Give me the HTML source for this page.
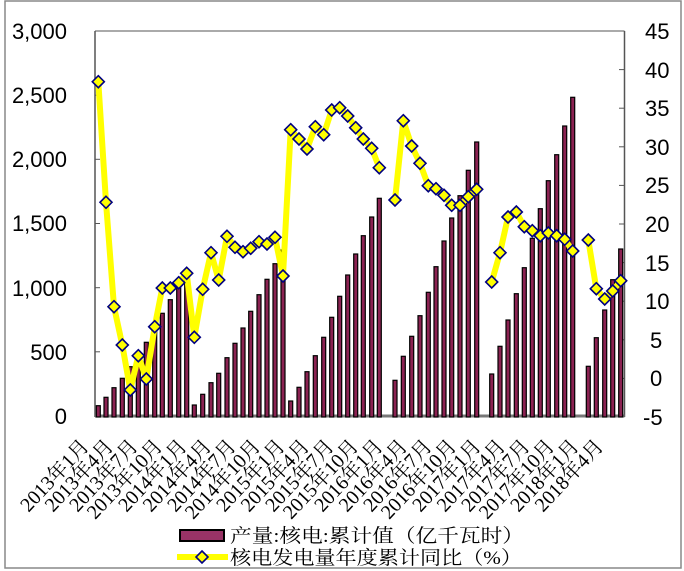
<!DOCTYPE html>
<html><head><meta charset="utf-8"><style>
html,body{margin:0;padding:0;background:#fff;}
svg{display:block;}
.ax{font-family:"Liberation Sans",sans-serif;font-size:22px;fill:#000;}
.xl{font-family:"Liberation Serif","Noto Serif CJK SC",serif;font-size:20px;fill:#000;}
.lg{font-family:"Liberation Serif","Noto Serif CJK SC",serif;font-size:19px;fill:#000;}
</style></head><body>
<svg width="684" height="571" viewBox="0 0 684 571" xmlns="http://www.w3.org/2000/svg">
<rect x="5" y="1" width="676" height="567" fill="#fff" stroke="#888" stroke-width="1.5"/>
<line x1="95" y1="31" x2="95" y2="417" stroke="#555" stroke-width="1.5"/>
<line x1="624.5" y1="31" x2="624.5" y2="417" stroke="#555" stroke-width="1.5"/>
<line x1="95" y1="31" x2="624.5" y2="31" stroke="#555" stroke-width="1"/>
<line x1="95" y1="416" x2="624.5" y2="416" stroke="#777" stroke-width="3"/>
<g stroke="#555" stroke-width="1">
<line x1="95" y1="95.2" x2="100" y2="95.2"/><line x1="95" y1="159.3" x2="100" y2="159.3"/><line x1="95" y1="223.5" x2="100" y2="223.5"/><line x1="95" y1="287.7" x2="100" y2="287.7"/><line x1="95" y1="351.8" x2="100" y2="351.8"/>
<line x1="619" y1="69.6" x2="624" y2="69.6"/><line x1="619" y1="108.2" x2="624" y2="108.2"/><line x1="619" y1="146.8" x2="624" y2="146.8"/><line x1="619" y1="185.4" x2="624" y2="185.4"/><line x1="619" y1="224" x2="624" y2="224"/><line x1="619" y1="262.6" x2="624" y2="262.6"/><line x1="619" y1="301.2" x2="624" y2="301.2"/><line x1="619" y1="339.8" x2="624" y2="339.8"/><line x1="619" y1="378.4" x2="624" y2="378.4"/>
</g>
<g class="ax" text-anchor="end">
<text x="67" y="39">3,000</text><text x="67" y="103">2,500</text><text x="67" y="167">2,000</text><text x="67" y="231">1,500</text><text x="67" y="296">1,000</text><text x="67" y="360">500</text><text x="67" y="424">0</text>
</g>
<g class="ax" text-anchor="start">
<text x="645" y="39">45</text><text x="645" y="78">40</text><text x="645" y="116">35</text><text x="645" y="155">30</text><text x="645" y="193">25</text><text x="645" y="232">20</text><text x="645" y="271">15</text><text x="645" y="309">10</text><text x="650" y="348">5</text><text x="650" y="386">0</text><text x="643" y="425">-5</text>
</g>
<g fill="#8B2252" stroke="#000" stroke-width="1.2">
<rect x="96.3" y="405.7" width="4" height="11.3"/><rect x="104" y="397.3" width="4" height="19.7"/><rect x="112" y="387.7" width="4" height="29.3"/><rect x="120.3" y="378.3" width="4" height="38.7"/><rect x="128.3" y="366.7" width="4" height="50.3"/><rect x="136.3" y="361.7" width="4" height="55.3"/><rect x="144.3" y="342.3" width="4" height="74.7"/><rect x="152.7" y="323" width="4" height="94"/><rect x="160.3" y="313.3" width="4" height="103.7"/><rect x="168.3" y="299.7" width="4" height="117.3"/><rect x="176.7" y="286.7" width="4" height="130.3"/><rect x="184.7" y="277" width="4" height="140"/>
<rect x="192.3" y="405" width="4" height="12"/><rect x="200.7" y="394.3" width="4" height="22.7"/><rect x="209" y="382.7" width="4" height="34.3"/><rect x="216.7" y="373.3" width="4" height="43.7"/><rect x="225" y="357.7" width="4" height="59.3"/><rect x="233" y="343.3" width="4" height="73.7"/><rect x="241" y="328" width="4" height="89"/><rect x="248.7" y="311.3" width="4" height="105.7"/><rect x="257" y="294.7" width="4" height="122.3"/><rect x="265" y="279.3" width="4" height="137.7"/><rect x="273" y="263.7" width="4" height="153.3"/><rect x="281" y="250" width="4" height="167"/>
<rect x="288.7" y="401" width="4" height="16"/><rect x="297" y="387.3" width="4" height="29.7"/><rect x="305" y="371.7" width="4" height="45.3"/><rect x="313.3" y="355.7" width="4" height="61.3"/><rect x="321.7" y="337.3" width="4" height="79.7"/><rect x="329.7" y="317.3" width="4" height="99.7"/><rect x="337.7" y="296.3" width="4" height="120.7"/><rect x="345.7" y="275" width="4" height="142"/><rect x="353.7" y="254" width="4" height="163"/><rect x="361.3" y="235.7" width="4" height="181.3"/><rect x="369.7" y="217" width="4" height="200"/><rect x="377.3" y="198.3" width="4" height="218.7"/>
<rect x="393" y="380.3" width="4" height="36.7"/><rect x="401.3" y="356.3" width="4" height="60.7"/><rect x="409.7" y="336.3" width="4" height="80.7"/><rect x="418" y="315.7" width="4" height="101.3"/><rect x="426.3" y="292.3" width="4" height="124.7"/><rect x="434" y="266.7" width="4" height="150.3"/><rect x="442" y="241" width="4" height="176"/><rect x="449.7" y="218" width="4" height="199"/><rect x="458" y="195.7" width="4" height="221.3"/><rect x="466.3" y="170.3" width="4" height="246.7"/><rect x="474.7" y="142" width="4" height="275"/>
<rect x="489.7" y="374" width="4" height="43"/><rect x="498" y="346.3" width="4" height="70.7"/><rect x="506" y="320" width="4" height="97"/><rect x="514.3" y="293.7" width="4" height="123.3"/><rect x="522.3" y="267.7" width="4" height="149.3"/><rect x="530.3" y="238.3" width="4" height="178.7"/><rect x="538.3" y="208.7" width="4" height="208.3"/><rect x="546.3" y="180.7" width="4" height="236.3"/><rect x="554.7" y="154.7" width="4" height="262.3"/><rect x="562.7" y="126" width="4" height="291"/><rect x="570.7" y="97.3" width="4" height="319.7"/>
<rect x="586.3" y="366.3" width="4" height="50.7"/><rect x="594.3" y="337.7" width="4" height="79.3"/><rect x="602.7" y="310" width="4" height="107"/><rect x="610.7" y="279.7" width="4" height="137.3"/><rect x="618.7" y="249" width="4" height="168"/>
</g>
<defs><path id="d" d="M0,-6 L6,0 L0,6 L-6,0 Z" fill="#ffff00" stroke="#000080" stroke-width="1.6"/></defs>
<g fill="none" stroke="#ffff00" stroke-width="6" stroke-linejoin="round">
<polyline points="98.3,81.7 106,202.3 114,306.7 122.3,345 130.3,390 138.3,355.7 146.3,379 154.7,326.7 162.3,288 170.3,288 178.7,282.7 186.7,273.3 194.3,337.3 202.7,289.3 211,252.7 218.7,280 227,236.3 235,247.3 243,251.7 250.7,248.3 259,241.7 267,244 275,237.3 283,276 290.7,129.7 299,139 307,149 315.3,126.7 323.7,134.7 331.7,110 339.7,107.7 347.7,116 355.7,127.7 363.3,139 371.7,148.3 379.3,167.7"/>
<polyline points="395,200 403.3,120.7 411.7,146 420,163.3 428.3,185.7 436,188.7 444,195.3 451.7,205.3 460,205.3 468.3,196.7 476.7,189.3"/>
<polyline points="491.7,282 500,252.7 508,217 516.3,212 524.3,226.7 532.3,230.7 540.3,235.7 548.3,233 556.7,235.7 564.7,239.3 572.7,251"/>
<polyline points="588.3,240 596.3,288.7 604.7,299 612.7,291 620.7,280.7"/>
</g>
<g>
<use href="#d" x="98.3" y="81.7"/><use href="#d" x="106" y="202.3"/><use href="#d" x="114" y="306.7"/><use href="#d" x="122.3" y="345"/><use href="#d" x="130.3" y="390"/><use href="#d" x="138.3" y="355.7"/><use href="#d" x="146.3" y="379"/><use href="#d" x="154.7" y="326.7"/><use href="#d" x="162.3" y="288"/><use href="#d" x="170.3" y="288"/><use href="#d" x="178.7" y="282.7"/><use href="#d" x="186.7" y="273.3"/><use href="#d" x="194.3" y="337.3"/><use href="#d" x="202.7" y="289.3"/><use href="#d" x="211" y="252.7"/><use href="#d" x="218.7" y="280"/><use href="#d" x="227" y="236.3"/><use href="#d" x="235" y="247.3"/><use href="#d" x="243" y="251.7"/><use href="#d" x="250.7" y="248.3"/><use href="#d" x="259" y="241.7"/><use href="#d" x="267" y="244"/><use href="#d" x="275" y="237.3"/><use href="#d" x="283" y="276"/><use href="#d" x="290.7" y="129.7"/><use href="#d" x="299" y="139"/><use href="#d" x="307" y="149"/><use href="#d" x="315.3" y="126.7"/><use href="#d" x="323.7" y="134.7"/><use href="#d" x="331.7" y="110"/><use href="#d" x="339.7" y="107.7"/><use href="#d" x="347.7" y="116"/><use href="#d" x="355.7" y="127.7"/><use href="#d" x="363.3" y="139"/><use href="#d" x="371.7" y="148.3"/><use href="#d" x="379.3" y="167.7"/>
<use href="#d" x="395" y="200"/><use href="#d" x="403.3" y="120.7"/><use href="#d" x="411.7" y="146"/><use href="#d" x="420" y="163.3"/><use href="#d" x="428.3" y="185.7"/><use href="#d" x="436" y="188.7"/><use href="#d" x="444" y="195.3"/><use href="#d" x="451.7" y="205.3"/><use href="#d" x="460" y="205.3"/><use href="#d" x="468.3" y="196.7"/><use href="#d" x="476.7" y="189.3"/>
<use href="#d" x="491.7" y="282"/><use href="#d" x="500" y="252.7"/><use href="#d" x="508" y="217"/><use href="#d" x="516.3" y="212"/><use href="#d" x="524.3" y="226.7"/><use href="#d" x="532.3" y="230.7"/><use href="#d" x="540.3" y="235.7"/><use href="#d" x="548.3" y="233"/><use href="#d" x="556.7" y="235.7"/><use href="#d" x="564.7" y="239.3"/><use href="#d" x="572.7" y="251"/>
<use href="#d" x="588.3" y="240"/><use href="#d" x="596.3" y="288.7"/><use href="#d" x="604.7" y="299"/><use href="#d" x="612.7" y="291"/><use href="#d" x="620.7" y="280.7"/>
</g>
<g class="xl" text-anchor="end">
<text transform="translate(90,447) rotate(-47)">2013年1月</text>
<text transform="translate(114.5,447) rotate(-47)">2013年4月</text>
<text transform="translate(139,447) rotate(-47)">2013年7月</text>
<text transform="translate(163.5,447) rotate(-47)">2013年10月</text>
<text transform="translate(188,447) rotate(-47)">2014年1月</text>
<text transform="translate(212.5,447) rotate(-47)">2014年4月</text>
<text transform="translate(237,447) rotate(-47)">2014年7月</text>
<text transform="translate(261.5,447) rotate(-47)">2014年10月</text>
<text transform="translate(286,447) rotate(-47)">2015年1月</text>
<text transform="translate(310.5,447) rotate(-47)">2015年4月</text>
<text transform="translate(335,447) rotate(-47)">2015年7月</text>
<text transform="translate(359.5,447) rotate(-47)">2015年10月</text>
<text transform="translate(384,447) rotate(-47)">2016年1月</text>
<text transform="translate(408.5,447) rotate(-47)">2016年4月</text>
<text transform="translate(433,447) rotate(-47)">2016年7月</text>
<text transform="translate(457.5,447) rotate(-47)">2016年10月</text>
<text transform="translate(482,447) rotate(-47)">2017年1月</text>
<text transform="translate(506.5,447) rotate(-47)">2017年4月</text>
<text transform="translate(531,447) rotate(-47)">2017年7月</text>
<text transform="translate(555.5,447) rotate(-47)">2017年10月</text>
<text transform="translate(580,447) rotate(-47)">2018年1月</text>
<text transform="translate(604.5,447) rotate(-47)">2018年4月</text>
</g>
<rect x="180" y="530" width="44" height="11" fill="#993366" stroke="#000" stroke-width="2"/>
<text class="lg" x="230" y="542" textLength="294" lengthAdjust="spacingAndGlyphs">产量:核电:累计值（亿千瓦时）</text>
<line x1="177" y1="557" x2="228" y2="557" stroke="#ffff00" stroke-width="6"/>
<use href="#d" x="202" y="557"/>
<text class="lg" x="230" y="564" textLength="292" lengthAdjust="spacingAndGlyphs">核电发电量年度累计同比（%）</text>
</svg>
</body></html>
